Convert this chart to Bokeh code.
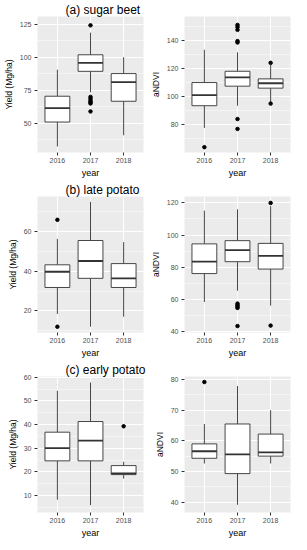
from bokeh.plotting import figure
from bokeh.models import Range1d, FactorRange, FixedTicker, ColumnDataSource
from bokeh.layouts import gridplot
from bokeh.transform import dodge
from bokeh.embed import file_html
from bokeh.resources import INLINE

years = ["2016", "2017", "2018"]

# (a) sugar beet - yield
a_yield_lower = [32.5, 73.5, 41.0]
a_yield_q1 = [51.0, 89.3, 66.7]
a_yield_median = [61.5, 95.7, 81.2]
a_yield_q3 = [70.5, 101.8, 87.6]
a_yield_upper = [90.5, 118.5, 100.0]
a_yield_out_year = ["2017", "2017", "2017", "2017", "2017", "2017", "2017"]
a_yield_out_val = [124.0, 70.0, 68.5, 67.0, 66.0, 65.0, 59.0]
a_yield_ticks = [50, 75, 100, 125]

# (a) sugar beet - aNDVI
a_ndvi_lower = [77.7, 93.5, 96.0]
a_ndvi_q1 = [93.5, 107.4, 106.0]
a_ndvi_median = [101.0, 113.7, 109.5]
a_ndvi_q3 = [110.0, 118.0, 112.6]
a_ndvi_upper = [133.3, 131.5, 122.5]
a_ndvi_out_year = ["2016", "2017", "2017", "2017", "2017", "2017", "2017", "2017", "2018", "2018"]
a_ndvi_out_val = [64.0, 151.0, 149.5, 147.5, 139.5, 138.5, 84.0, 77.0, 124.0, 95.0]
a_ndvi_ticks = [80, 100, 120, 140]

# (b) late potato - yield
b_yield_lower = [18.5, 12.1, 17.1]
b_yield_q1 = [31.8, 36.4, 31.8]
b_yield_median = [39.7, 45.1, 36.4]
b_yield_q3 = [43.2, 55.4, 43.8]
b_yield_upper = [56.2, 74.8, 54.6]
b_yield_out_year = ["2016", "2016"]
b_yield_out_val = [65.8, 12.1]
b_yield_ticks = [20, 40, 60]

# (b) late potato - aNDVI
b_ndvi_lower = [58.3, 65.3, 56.0]
b_ndvi_q1 = [76.0, 83.4, 78.8]
b_ndvi_median = [83.4, 90.6, 87.0]
b_ndvi_q3 = [94.5, 96.5, 94.8]
b_ndvi_upper = [115.2, 116.0, 118.0]
b_ndvi_out_year = ["2017", "2017", "2017", "2017", "2017", "2018", "2018"]
b_ndvi_out_val = [57.3, 56.3, 55.4, 54.6, 43.3, 120.0, 43.6]
b_ndvi_ticks = [40, 60, 80, 100, 120]

# (c) early potato - yield
c_yield_lower = [8.3, 6.0, 17.2]
c_yield_q1 = [24.7, 24.7, 18.9]
c_yield_median = [30.1, 33.2, 19.4]
c_yield_q3 = [36.8, 41.3, 22.7]
c_yield_upper = [54.3, 57.8, 24.3]
c_yield_out_year = ["2018"]
c_yield_out_val = [39.3]
c_yield_ticks = [10, 20, 30, 40, 50, 60]

# (c) early potato - aNDVI
c_ndvi_lower = [52.6, 39.1, 52.6]
c_ndvi_q1 = [54.3, 49.3, 55.0]
c_ndvi_median = [56.6, 55.6, 56.2]
c_ndvi_q3 = [59.0, 65.5, 62.2]
c_ndvi_upper = [65.5, 77.9, 70.0]
c_ndvi_out_year = ["2016"]
c_ndvi_out_val = [79.2]
c_ndvi_ticks = [40, 50, 60, 70, 80]

FONT = "Liberation Sans"


def panel(title, ylabel, lower, q1, med, q3, upper, oy, ov, ylo, yhi, ticks, width, mr):
    p = figure(width=width, height=180,
               x_range=FactorRange(factors=years, range_padding=0.1,
                                   range_padding_units="absolute"),
               y_range=Range1d(ylo, yhi),
               output_backend="svg", toolbar_location=None, tools="",
               min_border_left=30, min_border_right=mr,
               min_border_top=16, min_border_bottom=25,
               background_fill_color="#EBEBEB", border_fill_color="white",
               outline_line_color=None)
    if title:
        p.title.text = title
        p.title.text_font = FONT
        p.title.text_font_size = "12px"
        p.title.text_font_style = "normal"
        p.title.text_color = "black"
        p.title.standoff = 0
        p.title.offset = 28
    src = ColumnDataSource(dict(x=years, lower=lower, q1=q1, med=med, q3=q3, upper=upper))
    p.segment(x0="x", y0="q3", x1="x", y1="upper", source=src,
              line_color="#333333", line_width=0.9)
    p.segment(x0="x", y0="q1", x1="x", y1="lower", source=src,
              line_color="#333333", line_width=0.9)
    p.vbar(x="x", width=0.75, bottom="q1", top="q3", source=src,
           fill_color="white", line_color="#333333", line_width=0.9)
    p.segment(x0=dodge("x", -0.375, range=p.x_range), y0="med",
              x1=dodge("x", 0.375, range=p.x_range), y1="med", source=src,
              line_color="#333333", line_width=1.8)
    p.scatter(x=oy, y=ov, size=3.5, color="black")

    # minor ticks at midpoints between major ticks
    step = ticks[1] - ticks[0]
    minor = [t - step / 2 for t in ticks] + [ticks[-1] + step / 2]
    p.yaxis.ticker = FixedTicker(ticks=ticks, minor_ticks=minor)

    for ax in (p.xaxis[0], p.yaxis[0]):
        ax.axis_line_color = None
        ax.major_tick_line_color = "#333333"
        ax.major_tick_out = 3
        ax.major_tick_in = 0
        ax.minor_tick_line_color = None
        ax.major_label_text_font = FONT
        ax.major_label_text_font_size = "7px"
        ax.major_label_text_color = "#4D4D4D"
        ax.major_label_standoff = 2
        ax.axis_label_text_font = FONT
        ax.axis_label_text_font_style = "normal"
        ax.axis_label_text_color = "black"
        ax.axis_label_standoff = 3
    p.xaxis.axis_label = "year"
    p.xaxis.axis_label_text_font_size = "9px"
    p.xaxis.axis_label_standoff = 2
    p.yaxis.axis_label = ylabel
    p.yaxis.axis_label_text_font_size = "8.5px"

    p.xgrid.grid_line_color = "white"
    p.xgrid.grid_line_width = 1
    p.ygrid.grid_line_color = "white"
    p.ygrid.grid_line_width = 1
    p.ygrid.minor_grid_line_color = "white"
    p.ygrid.minor_grid_line_width = 0.5
    return p


LW, RW = 147, 152
pa1 = panel("(a) sugar beet", "Yield (Mg/ha)", a_yield_lower, a_yield_q1, a_yield_median,
            a_yield_q3, a_yield_upper, a_yield_out_year, a_yield_out_val,
            28.0, 130.7, a_yield_ticks, LW, 4)
pa2 = panel(None, "aNDVI", a_ndvi_lower, a_ndvi_q1, a_ndvi_median, a_ndvi_q3, a_ndvi_upper,
            a_ndvi_out_year, a_ndvi_out_val, 60.2, 157.0, a_ndvi_ticks, RW, 9)
pb1 = panel("(b) late potato", "Yield (Mg/ha)", b_yield_lower, b_yield_q1, b_yield_median,
            b_yield_q3, b_yield_upper, b_yield_out_year, b_yield_out_val,
            9.2, 77.5, b_yield_ticks, LW, 4)
pb2 = panel(None, "aNDVI", b_ndvi_lower, b_ndvi_q1, b_ndvi_median, b_ndvi_q3, b_ndvi_upper,
            b_ndvi_out_year, b_ndvi_out_val, 39.3, 124.0, b_ndvi_ticks, RW, 9)
pc1 = panel("(c) early potato", "Yield (Mg/ha)", c_yield_lower, c_yield_q1, c_yield_median,
            c_yield_q3, c_yield_upper, c_yield_out_year, c_yield_out_val,
            2.9, 60.3, c_yield_ticks, LW, 4)
pc2 = panel(None, "aNDVI", c_ndvi_lower, c_ndvi_q1, c_ndvi_median, c_ndvi_q3, c_ndvi_upper,
            c_ndvi_out_year, c_ndvi_out_val, 36.6, 81.0, c_ndvi_ticks, RW, 9)

grid = gridplot([[pa1, pa2], [pb1, pb2], [pc1, pc2]], toolbar_location=None)

open("out.html", "w").write(file_html(grid, INLINE))
